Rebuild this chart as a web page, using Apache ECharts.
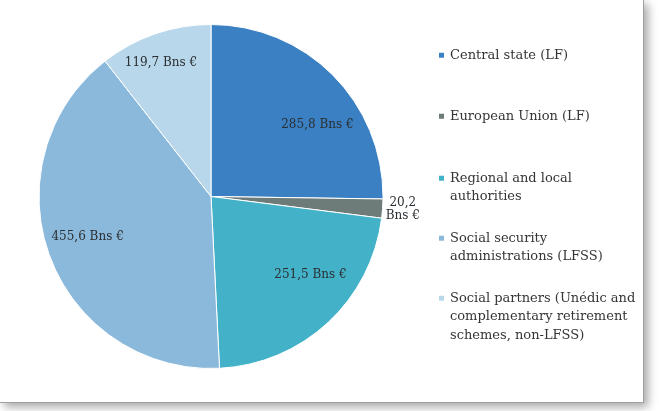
<!DOCTYPE html>
<html>
<head>
<meta charset="utf-8">
<script src="https://cdn.jsdelivr.net/npm/echarts@6/dist/echarts.min.js"></script>
<style>
  html, body { margin: 0; padding: 0; background: #fff; }
  #frame {
    position: absolute; left: 0; top: 0;
    width: 643px; height: 402px;
    background: #fff;
    border-right: 1px solid #a0a0a0;
    border-bottom: 1px solid #a0a0a0;
    box-shadow: 4px 4px 9px rgba(0, 0, 0, 0.35);
  }
  #main { width: 643px; height: 402px; }
</style>
</head>
<body>
<div id="frame"><div id="main"></div></div>
<script>
// data (billions of euros)
const categories = [
  'Central state (LF)',
  'European Union (LF)',
  'Regional and local authorities',
  'Social security administrations (LFSS)',
  'Social partners (Unédic and complementary retirement schemes, non-LFSS)'
]
const values = [285.8, 20.2, 251.5, 455.6, 119.7]
// how the legend wraps each name
const legendLines = [
  ['Central state (LF)'],
  ['European Union (LF)'],
  ['Regional and local', 'authorities'],
  ['Social security', 'administrations (LFSS)'],
  ['Social partners (Unédic and', 'complementary retirement', 'schemes, non-LFSS)']
]

const colors = ['#3a80c3', '#6e7c79', '#43b2c8', '#8bb9dc', '#b9d7ea']
// label nudges from the default inside spot
const labelShift = [[43, -9], [103, 7], [39, 13], [-40, 9], [-21, -49]]
const legendTops = [46, 107, 168, 228, 288]
const lineH = 18.5

function fmt(v) {
  return v.toFixed(1).replace('.', ',')
}

const legends = categories.map(function (name, i) {
  const n = legendLines[i].length
  const h = n * lineH
  const y0 = (lineH - 7) / 2
  return {
    data: [name],
    left: 437,
    top: legendTops[i],
    orient: 'vertical',
    padding: 0,
    itemWidth: 7,
    itemHeight: n > 1 ? h : 7,
    icon: n > 1 ? 'path://M0,0M7,' + h + 'M0,' + y0 + 'h7v7h-7z' : 'rect',
    formatter: function () { return legendLines[i].join('\n') },
    textStyle: {
      fontFamily: 'DejaVu Serif',
      fontSize: 13,
      lineHeight: lineH,
      color: '#353535'
    }
  }
})

const chart = echarts.init(document.getElementById('main'))
chart.setOption({
  animation: false,
  color: colors,
  legend: legends,
  series: [{
    type: 'pie',
    center: [211, 196.5],
    radius: 172,
    startAngle: 90,
    clockwise: true,
    itemStyle: { borderColor: '#fff', borderWidth: 1 },
    label: {
      show: true,
      position: 'inside',
      fontFamily: 'DejaVu Serif',
      fontSize: 12,
      lineHeight: 13,
      color: '#2a2f33',
      formatter: function (p) {
        return p.dataIndex === 1 ? fmt(p.value) + '\nBns €' : fmt(p.value) + ' Bns €'
      }
    },
    labelLayout: function (p) {
      return { dx: labelShift[p.dataIndex][0], dy: labelShift[p.dataIndex][1] }
    },
    data: categories.map(function (name, i) {
      return { name: name, value: values[i] }
    })
  }]
})
</script>
</body>
</html>
